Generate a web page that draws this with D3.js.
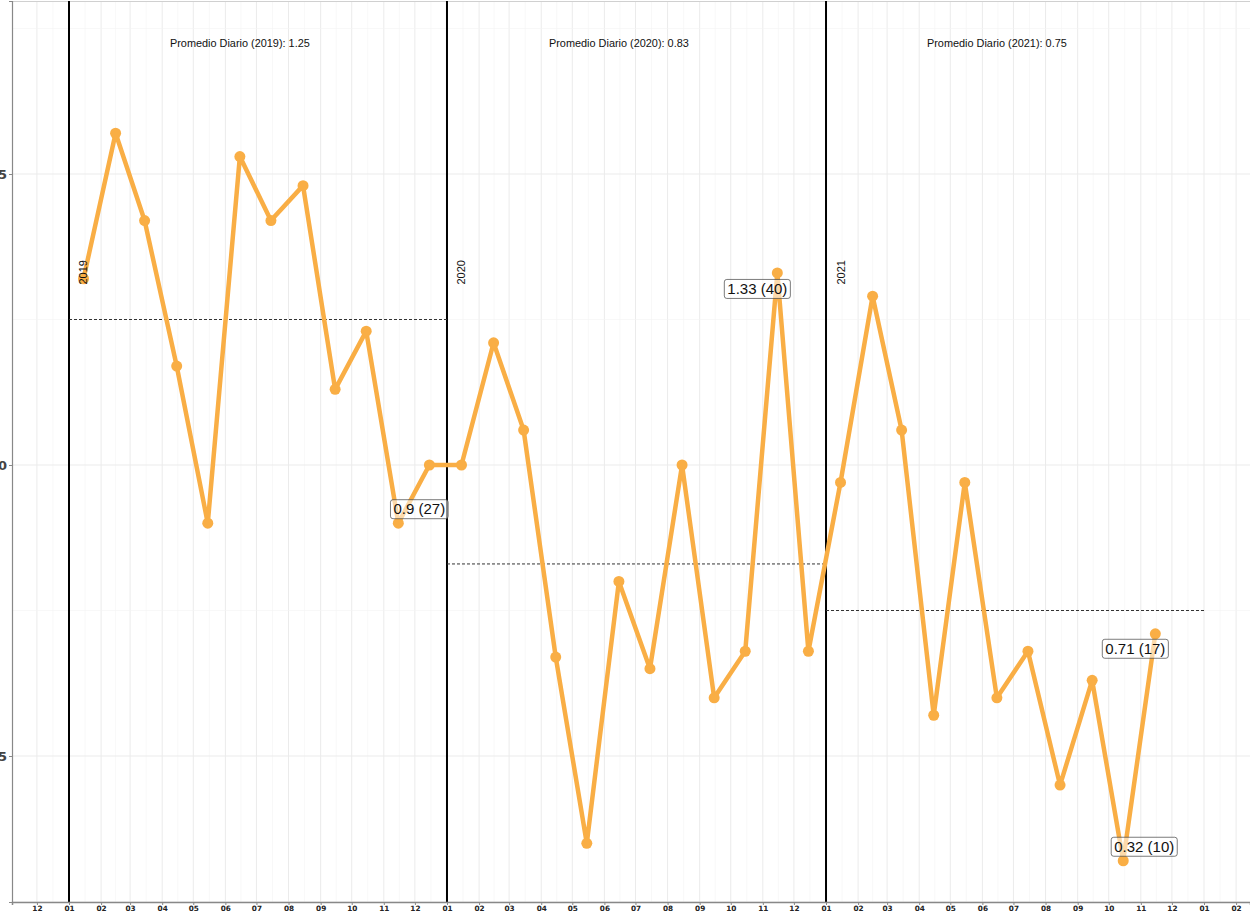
<!DOCTYPE html>
<html>
<head>
<meta charset="utf-8">
<script src="https://cdn.jsdelivr.net/npm/d3@7"></script>
<style>
  html, body { margin: 0; padding: 0; background: #fff; }
  svg { display: block; font-family: "Liberation Sans", Arial, sans-serif; }
</style>
</head>
<body>
<svg id="chart" width="1250" height="913"></svg>
<script>
// monthly daily-average values, one array per year
const years = [2019, 2020, 2021];
const values2019 = [1.32, 1.57, 1.42, 1.17, 0.90, 1.53, 1.42, 1.48, 1.13, 1.23, 0.90, 1.00];
const values2020 = [1.00, 1.21, 1.06, 0.67, 0.35, 0.80, 0.65, 1.00, 0.60, 0.68, 1.33, 0.68];
const values2021 = [0.97, 1.29, 1.06, 0.57, 0.97, 0.60, 0.68, 0.45, 0.63, 0.32, 0.71];
const yearlyAverage = [1.25, 0.83, 0.75];

// labelled points: [year, month, text]
const labelled = [
  [2019, 11, "0.9 (27)"],
  [2020, 11, "1.33 (40)"],
  [2021, 11, "0.71 (17)"],
  [2021, 10, "0.32 (10)"]
];
const yTicks = [0.5, 1.0, 1.5];
const yMinor = [0.25, 0.75, 1.25, 1.75];

const series = [values2019, values2020, values2021];
const data = [];
series.forEach((vals, i) => {
  vals.forEach((v, m) => data.push({date: new Date(Date.UTC(years[i], m, 15)), value: v, year: years[i], month: m + 1}));
});

const pLeft = 12, pRight = 1250, pTop = 1, pBottom = 902;
const orange = "#F9AE45";

const svg = d3.select("#chart");

// x: time scale anchored so that year starts fall where the panel has them
const anchor = d3.scaleUtc()
  .domain([new Date(Date.UTC(2019, 0, 1)), new Date(Date.UTC(2022, 0, 1))])
  .range([69, 1204]);
const x = d3.scaleUtc().domain([anchor.invert(pLeft), anchor.invert(pRight)]).range([pLeft, pRight]);

const yAnchor = d3.scaleLinear().domain([0.5, 1.5]).range([756, 174]);
const y = d3.scaleLinear().domain([yAnchor.invert(pBottom), yAnchor.invert(pTop)]).range([pBottom, pTop]);

const g = svg.append("g");

// grid
const months = d3.utcMonth.range(x.domain()[0], x.domain()[1]);
const mids = months.map(d => new Date(d.getTime() + (d3.utcMonth.offset(d, 1) - d) / 2));
g.append("g").selectAll("line").data(mids).join("line")
  .attr("x1", d => x(d)).attr("x2", d => x(d)).attr("y1", pTop).attr("y2", pBottom)
  .attr("stroke", "#f3f3f3").attr("stroke-width", 0.6);
g.append("g").selectAll("line").data(months).join("line")
  .attr("x1", d => x(d)).attr("x2", d => x(d)).attr("y1", pTop).attr("y2", pBottom)
  .attr("stroke", "#ebebeb").attr("stroke-width", 1);
g.append("g").selectAll("line").data(yMinor).join("line")
  .attr("x1", pLeft).attr("x2", pRight).attr("y1", d => y(d)).attr("y2", d => y(d))
  .attr("stroke", "#f3f3f3").attr("stroke-width", 0.6);
g.append("g").selectAll("line").data(yTicks).join("line")
  .attr("x1", pLeft).attr("x2", pRight).attr("y1", d => y(d)).attr("y2", d => y(d))
  .attr("stroke", "#ebebeb").attr("stroke-width", 1);

// top border
g.append("line").attr("x1", pLeft).attr("x2", pRight).attr("y1", pTop + 0.5).attr("y2", pTop + 0.5)
  .attr("stroke", "#d0d0d0").attr("stroke-width", 1);

// year separators
g.append("g").selectAll("line").data(years).join("line")
  .attr("x1", d => x(new Date(Date.UTC(d, 0, 1)))).attr("x2", d => x(new Date(Date.UTC(d, 0, 1))))
  .attr("y1", pTop).attr("y2", pBottom)
  .attr("stroke", "#000").attr("stroke-width", 2);

// yearly averages
g.append("g").selectAll("line").data(years).join("line")
  .attr("x1", d => x(new Date(Date.UTC(d, 0, 1))))
  .attr("x2", d => x(new Date(Date.UTC(d + 1, 0, 1))))
  .attr("y1", (d, i) => y(yearlyAverage[i])).attr("y2", (d, i) => y(yearlyAverage[i]))
  .attr("stroke", "#333").attr("stroke-width", 1).attr("stroke-dasharray", "3,2");

g.append("g").selectAll("text").data(years).join("text")
  .attr("x", d => x(new Date(Date.UTC(d, 5, 15))))
  .attr("y", y(1.725))
  .attr("dy", "0.35em")
  .attr("text-anchor", "middle")
  .attr("font-size", 10.9)
  .attr("fill", "#111")
  .text((d, i) => `Promedio Diario (${d}): ${yearlyAverage[i]}`);

// series
const line = d3.line().x(d => x(d.date)).y(d => y(d.value));
g.append("path").datum(data)
  .attr("d", line)
  .attr("fill", "none")
  .attr("stroke", orange)
  .attr("stroke-width", 4.5)
  .attr("stroke-linejoin", "round");

g.append("g").selectAll("circle").data(data).join("circle")
  .attr("cx", d => x(d.date)).attr("cy", d => y(d.value)).attr("r", 5.5)
  .attr("fill", orange);

// year tags
g.append("g").selectAll("text").data(years).join("text")
  .attr("transform", d => `translate(${x(new Date(Date.UTC(d, 0, 15))) + 4},${y(1.31)}) rotate(-90)`)
  .attr("font-size", 11)
  .attr("fill", "#111")
  .text(d => d);

// labelled points
const nudge = [[21, -14], [-20, 16], [-20, 15], [21, -14]];
const lab = g.append("g").selectAll("g").data(labelled).join("g")
  .attr("transform", (d, i) => {
    const p = data.find(e => e.year === d[0] && e.month === d[1]);
    return `translate(${x(p.date) + nudge[i][0]},${y(p.value) + nudge[i][1]})`;
  });
lab.append("rect");
lab.append("text")
  .attr("text-anchor", "middle").attr("dy", "0.35em")
  .attr("font-size", 15).attr("fill", "#111")
  .text(d => d[2]);
lab.each(function() {
  const bb = d3.select(this).select("text").node().getBBox();
  d3.select(this).select("rect")
    .attr("x", bb.x - 3).attr("y", -9.5).attr("width", bb.width + 6).attr("height", 19)
    .attr("rx", 2.5)
    .attr("fill", "rgba(255,255,255,0.55)")
    .attr("stroke", "#444").attr("stroke-width", 0.7);
});

// axes
const xAxis = d3.axisBottom(x).tickValues(months).tickFormat(d3.utcFormat("%m")).tickSize(3).tickPadding(1);
const gx = svg.append("g").attr("transform", `translate(0,${pBottom})`).call(xAxis);
gx.select(".domain").attr("stroke", "#888").attr("stroke-width", 1.5);
gx.selectAll(".tick line").attr("stroke", "#888");
gx.selectAll(".tick text").attr("font-size", 7.3).attr("font-weight", "bold").attr("fill", "#222")
  .attr("font-family", "'DejaVu Sans', sans-serif");

const yAxis = d3.axisLeft(y).tickValues(yTicks).tickFormat(d3.format(".1f")).tickSize(3).tickPadding(2);
const gy = svg.append("g").attr("transform", `translate(${pLeft},0)`).call(yAxis);
gy.select(".domain").attr("stroke", "#888").attr("stroke-width", 1.2);
gy.selectAll(".tick line").attr("stroke", "#888");
gy.selectAll(".tick text").attr("font-size", 13).attr("font-weight", "bold").attr("fill", "#444")
  .attr("font-family", "'DejaVu Sans', sans-serif");
</script>
</body>
</html>
